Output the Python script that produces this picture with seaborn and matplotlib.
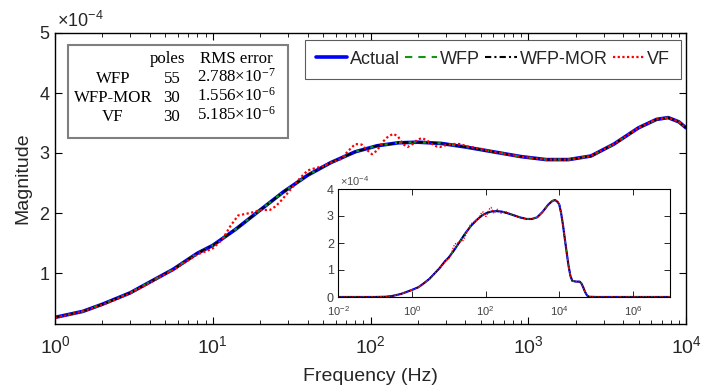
import matplotlib
matplotlib.use("Agg")
import matplotlib.pyplot as plt
import matplotlib.ticker as mticker
from matplotlib.patches import Rectangle
import seaborn as sns

# magnitudes are in units of 1e-4
freq = [1.0, 1.5, 2.0, 3.0, 4.0, 5.6, 8.0, 10, 14, 20, 28, 40, 56, 80, 110, 150,
        200, 280, 400, 600, 900, 1300, 1800, 2500, 3500, 5000, 6500, 7700, 9000, 10000]
actual_mag = [0.26, 0.36, 0.48, 0.67, 0.85, 1.06, 1.33, 1.46, 1.73, 2.05, 2.35, 2.63, 2.84,
              3.02, 3.12, 3.17, 3.18, 3.16, 3.10, 3.02, 2.94, 2.89, 2.89, 2.95, 3.15, 3.42,
              3.56, 3.59, 3.52, 3.42]
wfp_mag = [0.26, 0.36, 0.48, 0.67, 0.85, 1.06, 1.33, 1.46, 1.73, 2.05, 2.35, 2.63, 2.84,
           3.02, 3.12, 3.17, 3.18, 3.16, 3.10, 3.02, 2.94, 2.89, 2.89, 2.95, 3.15, 3.42,
           3.56, 3.59, 3.52, 3.42]
wfpmor_mag = [0.26, 0.36, 0.48, 0.67, 0.85, 1.06, 1.33, 1.46, 1.73, 2.05, 2.35, 2.63, 2.84,
              3.02, 3.12, 3.17, 3.18, 3.16, 3.10, 3.02, 2.94, 2.89, 2.89, 2.95, 3.15, 3.42,
              3.56, 3.59, 3.52, 3.42]

vf_freq = [1.0, 1.5, 2.0, 3.0, 4.0, 5.6, 8.0, 9.0, 10, 11.5, 13, 14.5, 16.5, 18.5, 20, 21.5,
           23, 25, 27, 30, 32, 36, 40, 45, 50, 56, 65, 72, 80, 88, 95, 102, 110, 120, 130,
           140, 150, 160, 172, 185, 198, 212, 228, 245, 262, 276, 300, 330, 369, 410, 500,
           600, 900, 1300, 1800, 2500, 3500, 5000, 6500, 7700, 9000, 10000]
vf_mag = [0.25, 0.36, 0.47, 0.66, 0.84, 1.05, 1.31, 1.36, 1.41, 1.56, 1.79, 1.96, 1.99, 2.02,
          2.05, 2.05, 2.05, 2.11, 2.20, 2.34, 2.43, 2.59, 2.71, 2.75, 2.78, 2.84, 2.90, 3.03,
          3.15, 3.14, 3.05, 2.98, 3.04, 3.19, 3.28, 3.32, 3.27, 3.15, 3.10, 3.15, 3.22, 3.25,
          3.21, 3.15, 3.11, 3.10, 3.13, 3.15, 3.15, 3.11, 3.07, 3.02, 2.94, 2.89, 2.89, 2.95,
          3.15, 3.42, 3.56, 3.59, 3.52, 3.42]

# extra range shown only in the inset
low_freq = [0.01, 0.03, 0.1, 0.2, 0.3, 0.5, 0.7]
low_mag = [0.0, 0.0, 0.0, 0.01, 0.04, 0.11, 0.18]
high_freq = [11200, 12600, 14100, 15800, 17800, 20000, 22400, 28200, 35500, 39800,
             44700, 50100, 56200, 63100, 1e5, 1e6, 1e7]
high_mag = [3.10, 2.65, 2.15, 1.65, 1.15, 0.78, 0.60, 0.57, 0.57, 0.50, 0.35, 0.18, 0.06,
            0.01, 0.0, 0.0, 0.0]

labels = ["Actual", "WFP", "WFP-MOR", "VF"]
table_rows = ["WFP", "WFP-MOR", "VF"]
table_poles = ["55", "30", "30"]
table_rms = [r"2.788×$\mathdefault{10^{-7}}$", r"1.556×$\mathdefault{10^{-6}}$",
             r"5.185×$\mathdefault{10^{-6}}$"]

sns.set_theme(style="white")
plt.rcParams["font.family"] = ["Liberation Sans", "DejaVu Sans"]
txt = "#262626"

fig = plt.figure(figsize=(7.01, 3.89), dpi=100)
ax = fig.add_axes([55 / 701, 1 - 324 / 389, 631 / 701, 291 / 389])

styles = [
    dict(color="#0000ff", linewidth=2.6, linestyle="-"),
    dict(color="#149614", linewidth=1.5, linestyle=(0, (3.5, 2.9))),
    dict(color="#000000", linewidth=1.5, linestyle=(0, (3, 1.5, 1, 1.5))),
    dict(color="#ff0000", linewidth=1.6, linestyle=(0, (1, 1.1))),
]
series = [(freq, actual_mag), (freq, wfp_mag), (freq, wfpmor_mag), (vf_freq, vf_mag)]
for (fx, fy), lab, st in zip(series, labels, styles):
    sns.lineplot(x=fx, y=fy, ax=ax, label=lab, **st)

ax.set_xscale("log")
ax.set_xlim(1, 1e4)
ax.set_ylim(0.15, 5)
ax.set_yticks([1, 2, 3, 4, 5])
ax.xaxis.set_minor_locator(mticker.LogLocator(base=10, subs=range(2, 10), numticks=20))
ax.yaxis.set_minor_locator(mticker.NullLocator())
ax.tick_params(axis="both", which="both", direction="in", bottom=True, left=True, top=True,
               right=True, colors="#000000", labelcolor=txt)
ax.tick_params(axis="both", which="major", length=5, width=0.8)
ax.tick_params(axis="x", which="minor", length=3, width=0.6)
ax.tick_params(axis="x", which="major", labelsize=14, pad=8)
ax.tick_params(axis="y", which="major", labelsize=13, pad=4)
for s in ax.spines.values():
    s.set_color("#000000")
    s.set_linewidth(1.0)
ax.set_xlabel("Frequency (Hz)", fontsize=14, color=txt, labelpad=8)
ax.set_ylabel("Magnitude", fontsize=14, color=txt, labelpad=6)
ax.text(0.003, 1.008, r"×$\mathdefault{10^{-4}}$", transform=ax.transAxes, fontsize=13,
        color=txt, ha="left", va="bottom")

leg = ax.legend(loc="upper right", bbox_to_anchor=(0.992, 0.976), borderaxespad=0, ncol=4,
                fontsize=13, frameon=True, fancybox=False, handlelength=1.75,
                handletextpad=0.15, columnspacing=0.3, borderpad=0.6)
leg.get_frame().set_edgecolor("#333333")
leg.get_frame().set_linewidth(0.8)
for t in leg.get_texts():
    t.set_color(txt)

# statistics table
ax.add_patch(Rectangle((0.0206, 0.639), 0.3487, 0.32, transform=ax.transAxes,
                       facecolor="white", edgecolor="#7f7f7f", linewidth=1.5, zorder=5))
serif = dict(family=["Liberation Serif", "DejaVu Serif"], fontsize=12.2, color="#000000",
             transform=ax.transAxes, ha="center", va="center", zorder=6)
ax.text(0.1775, 0.912, "poles", **serif)
ax.text(0.287, 0.912, "RMS error", **serif)
for i, (n, p, r) in enumerate(zip(table_rows, table_poles, table_rms)):
    y = 0.843 - i * 0.065
    ax.text(0.092, y, n, **serif)
    ax.text(0.1854, y, p, **serif)
    ax.text(0.2875, y + 0.005, r, **serif)

# inset with full range
ins = fig.add_axes([338 / 701, 1 - 297 / 389, 332 / 701, 108 / 389])
ins.set_facecolor("white")
ins_series = [(low_freq + freq + high_freq, low_mag + actual_mag + high_mag),
              (low_freq + freq + high_freq, low_mag + wfp_mag + high_mag),
              (low_freq + freq + high_freq, low_mag + wfpmor_mag + high_mag),
              (low_freq + vf_freq + high_freq, low_mag + vf_mag + high_mag)]
for (fx, fy), st in zip(ins_series, styles):
    st2 = dict(st)
    st2["linewidth"] = st["linewidth"] * 0.6
    sns.lineplot(x=fx, y=fy, ax=ins, legend=False, **st2)
ins.set_xscale("log")
ins.set_xlim(1e-2, 1e7)
ins.set_ylim(0, 4)
ins.set_yticks([0, 1, 2, 3, 4])
ins.xaxis.set_major_locator(mticker.FixedLocator([1e-2, 1, 1e2, 1e4, 1e6]))
ins.xaxis.set_minor_locator(mticker.NullLocator())
ins.yaxis.set_minor_locator(mticker.NullLocator())
ins.tick_params(axis="both", which="major", direction="in", bottom=True, left=True, top=True,
                right=True, length=4, width=0.7, labelsize=9, labelcolor="#404040", pad=3)
ins.tick_params(axis="x", labelsize=8, pad=5)
for s in ins.spines.values():
    s.set_color("#000000")
    s.set_linewidth(0.8)
ins.text(0.005, 1.01, r"×$\mathdefault{10^{-4}}$", transform=ins.transAxes, fontsize=8,
         color="#505050", ha="left", va="bottom")

fig.savefig("out.png", dpi=100)
